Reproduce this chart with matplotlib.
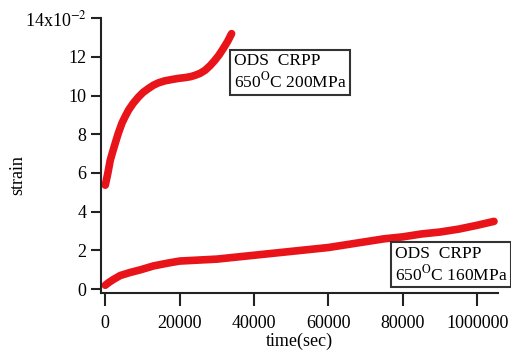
import numpy as np
import matplotlib
matplotlib.use('Agg')
import matplotlib.pyplot as plt

plt.rcParams['font.family'] = 'Liberation Serif'
plt.rcParams['mathtext.fontset'] = 'stix'

# creep curve, 650C 200MPa (strain in 1e-2)
t200 = [0, 700, 1340, 2000, 2680, 3500, 4470, 5300, 6260, 7500, 8950, 10200, 11640,
        12900, 14320, 16000, 17900, 19700, 21480, 23000, 24170, 25500, 26850,
        28200, 29500, 30600, 31720, 32900, 33960]
s200 = [5.37, 6.0, 6.66, 7.1, 7.54, 8.05, 8.57, 8.9, 9.25, 9.6, 9.93, 10.17, 10.37,
        10.53, 10.66, 10.76, 10.83, 10.89, 10.93, 10.98, 11.05, 11.15, 11.31,
        11.55, 11.83, 12.1, 12.43, 12.8, 13.2]

# creep curve, 650C 160MPa
t160 = [0, 1000, 2200, 4000, 6500, 9500, 13000, 17000, 20000, 25000, 30000, 35000,
        40000, 45000, 50000, 55000, 60000, 65000, 70000, 75000, 80000, 85000,
        90000, 95000, 100000, 104500]
s160 = [0.2, 0.35, 0.5, 0.7, 0.85, 1.0, 1.2, 1.35, 1.45, 1.5, 1.55, 1.65,
        1.75, 1.85, 1.95, 2.05, 2.15, 2.3, 2.45, 2.6, 2.7, 2.85,
        2.95, 3.1, 3.3, 3.5]

xticks = [0, 20000, 40000, 60000, 80000, 100000]
xlabels = ['0', '20000', '40000', '60000', '80000', '1000000']
yticks = [0, 2, 4, 6, 8, 10, 12, 14]
ylabels = ['0', '2', '4', '6', '8', '10', '12', '14x10$^{-2}$']

fig = plt.figure(figsize=(5.11, 3.56), dpi=100)
ax = fig.add_axes([0.198, 0.177, 0.776, 0.772])

red = '#e8141a'
ax.plot(t200, s200, color=red, lw=5.5, solid_capstyle='round')
ax.plot(t160, s160, color=red, lw=5.5, solid_capstyle='round')

ax.set_xlim(-1100, 105500)
ax.set_ylim(-0.2, 14)
ax.set_xticks(xticks)
ax.set_xticklabels(xlabels)
ax.set_yticks(yticks)
ax.set_yticklabels(ylabels)

for s in ['top', 'right']:
    ax.spines[s].set_visible(False)
for s in ['left', 'bottom']:
    ax.spines[s].set_linewidth(1.5)
    ax.spines[s].set_color('#222222')
ax.tick_params(direction='out', width=1.5, color='#222222', labelsize=13)
ax.tick_params(axis='x', length=9, pad=7)
ax.tick_params(axis='y', length=7.5, pad=3)

ax.set_xlabel('time(sec)', fontsize=13, labelpad=0)
ax.set_ylabel('strain', fontsize=13)
ax.yaxis.set_label_coords(-0.19, 0.43)

box = dict(boxstyle='square,pad=0.2', fc='white', ec='#333333', lw=1.5)
ax.text(34500, 12.2, 'ODS  CRPP\n650$^{\\rm O}$C 200MPa', fontsize=12.5,
        va='top', ha='left', bbox=box, linespacing=1.15)
ax.text(77800, 2.25, 'ODS  CRPP\n650$^{\\rm O}$C 160MPa', fontsize=12.5,
        va='top', ha='left', bbox=box, linespacing=1.15, clip_on=False)

fig.savefig('out.png', dpi=100)
